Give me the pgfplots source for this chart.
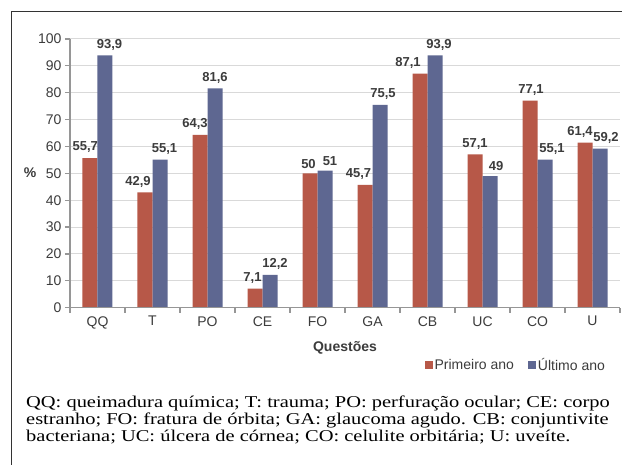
\documentclass[border=0pt]{standalone}
\usepackage{pgfplots}
\usepackage{pgfplotstable}
\pgfplotsset{compat=1.18}
\usepackage{fontspec}
\setmainfont{Liberation Sans}
\newfontfamily\capfont[FakeStretch=1.24]{Liberation Serif}
\definecolor{redbar}{RGB}{183,88,72}
\definecolor{bluebar}{RGB}{94,103,145}
\definecolor{gridc}{RGB}{217,217,217}
\definecolor{axisc}{RGB}{150,150,150}
\definecolor{txt}{RGB}{60,60,60}
\pgfplotstableread{
x y dx
0 55.7 -4.7
1 42.9 -7
2 64.3 -5
3 7.1 -2.5
4 50 -1.5
5 45.7 -6.5
6 87.1 -12
7 57.1 0
8 77.1 1
9 61.4 -5
}\primeiro
\pgfplotstableread{
x y dx
0 93.9 4.5
1 55.1 4.5
2 81.6 0
3 12.2 5
4 51 5
5 75.5 3
6 93.9 4
7 49 6
8 55.1 7
9 59.2 6
}\ultimo
\begin{document}
\begin{tikzpicture}
\useasboundingbox (0,0) rectangle (622pt,465pt);
\fill[white] (0,0) rectangle (622pt,465pt);
\draw[line width=1.4pt, black!80] (11.7pt,-1pt) -- (11.7pt,453.3pt) -- (623pt,453.3pt);
\begin{axis}[
  at={(70pt,157.3pt)}, anchor=south west,
  scale only axis, width=550pt, height=268.7pt,
  ybar=0pt, bar width=15pt,
  xmin=-0.5, xmax=9.5, ymin=0, ymax=100,
  ytick={0,10,...,100},
  xtick={-0.5,0.5,...,9.5},
  x tick label as interval,
  xticklabels={QQ,T,PO,CE,FO,GA,CB,UC,CO,U},
  axis line style={draw=none},
  xtick pos=bottom, ytick pos=left,
  ymajorgrids, grid style={gridc, line width=1pt},
  tick align=outside,
  major tick length=5pt,
  every tick/.style={draw=axisc, line width=1.2pt},
  ticklabel style={font=\fontsize{14}{14}\selectfont, text=txt},
  /pgf/number format/assume math mode=true,
  visualization depends on={\thisrow{dx} \as \dx},
  nodes near coords={\pgfmathprintnumber[use comma,fixed,precision=1]{\pgfplotspointmeta}},
  nodes near coords style={font=\bfseries\fontsize{13}{13}\selectfont, text=txt, inner sep=0pt, anchor=south, yshift=5pt, xshift=\dx pt},
  xlabel={\bfseries Questões},
  xlabel style={at={(axis description cs:0.5,-0.15)}, anchor=center, font=\fontsize{14}{14}\selectfont, text=txt},
  ylabel={\bfseries\%},
  ylabel style={rotate=-90, at={(axis description cs:-0.0727,0.501)}, anchor=center, font=\fontsize{14}{14}\selectfont, text=txt},
  legend style={at={(0.982,-0.213)}, anchor=east, draw=none, fill=none, legend columns=2, font=\fontsize{14}{14}\selectfont, text=txt, /tikz/every even column/.append style={column sep=12pt}},
  legend image code/.code={\fill[#1] (0pt,-4pt) rectangle (8pt,4pt);},
  after end axis/.code={\draw[axisc, line width=1.2pt] (rel axis cs:0,1) -- (rel axis cs:0,0) -- (rel axis cs:1,0);},
]
\addplot[fill=redbar, draw=none] table[x=x, y=y] {\primeiro};
\addplot[fill=bluebar, draw=none] table[x=x, y=y] {\ultimo};
\legend{Primeiro ano, Último ano}
\end{axis}
\begin{scope}[every node/.style={anchor=base west, inner sep=0pt, font=\capfont\fontsize{16.5}{17}\selectfont}]
\node at (26pt,57.3pt) {QQ: queimadura química; T: trauma; PO: perfuração ocular; CE: corpo};
\node at (26pt,40.3pt) {estranho; FO: fratura de órbita; GA: glaucoma agudo. CB: conjuntivite};
\node at (26pt,23.3pt) {bacteriana; UC: úlcera de córnea; CO: celulite orbitária; U: uveíte.};
\end{scope}
\end{tikzpicture}
\end{document}
